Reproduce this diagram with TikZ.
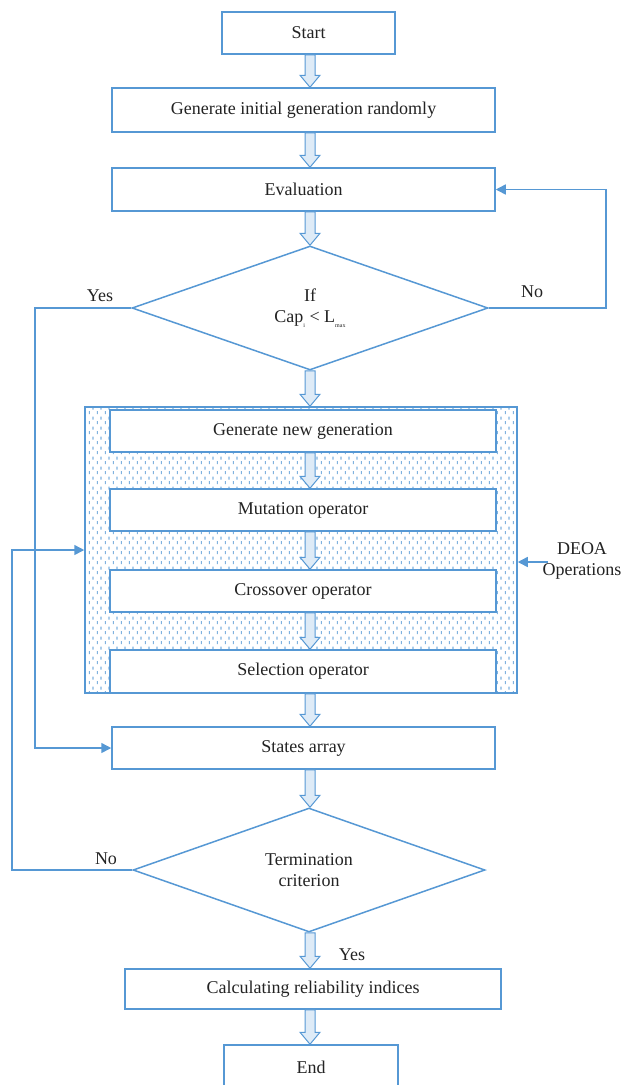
\documentclass[tikz,border=0pt]{standalone}
\usepackage{fontspec}
\setmainfont{Liberation Serif}
\usetikzlibrary{shapes.geometric,arrows.meta,patterns,calc}
\definecolor{flowblue}{RGB}{86,152,212}
\definecolor{arrowfill}{RGB}{222,235,247}
\definecolor{textgray}{RGB}{35,35,35}
% dotted fill of the DEOA block
\pgfdeclarepatternformonly{deoadots}{\pgfpointorigin}{\pgfqpoint{8pt}{10pt}}{\pgfqpoint{8pt}{10pt}}{%
  \pgfpathrectangle{\pgfqpoint{1pt}{1pt}}{\pgfqpoint{1.2pt}{3.2pt}}%
  \pgfpathrectangle{\pgfqpoint{5pt}{6pt}}{\pgfqpoint{1.2pt}{3.2pt}}%
  \pgfusepath{fill}}
% hollow block arrow from one node to the next
\newcommand{\blockarrow}[2]{%
  \draw[blockarr] let \p1=(#1.south -| axis), \p2=(#2.north -| axis) in
    (\x1-5pt,\y1) -- (\x1-5pt,\y2+12pt) -- (\x1-10pt,\y2+12pt) -- (\x1,\y2)
    -- (\x1+10pt,\y2+12pt) -- (\x1+5pt,\y2+12pt) -- (\x1+5pt,\y1) -- cycle;}
\begin{document}
\begin{tikzpicture}[x=1pt,y=-1pt,
    font=\fontsize{18}{21}\selectfont,
    proc/.style={draw=flowblue, line width=1.5pt, fill=white, text=textgray, minimum height=42, inner sep=0pt},
    decision/.style={diamond, draw=flowblue, line width=1.5pt, fill=white, text=textgray, inner sep=0pt, align=center},
    flow/.style={draw=flowblue, line width=1.5pt, -{Triangle[length=10pt,width=10pt]}},
    blockarr/.style={draw=flowblue, line width=1pt, fill=arrowfill},
    lbl/.style={text=textgray, inner sep=0pt}]
		\useasboundingbox (0,0) rectangle (621,1085);
		\coordinate (axis) at (310,0);
		% main column
		\node[proc, minimum width=173] (start) at (308.5,33) {Start};
		\node[proc, minimum width=383, minimum height=44] (geninit) at (303.5,110) {Generate initial generation randomly};
		\node[proc, minimum width=383, minimum height=43] (eval) at (303.5,189.5) {Evaluation};
		\node[decision, minimum width=356, minimum height=124] (cond) at (310,308)
			{If\\Cap\raisebox{-5pt}{\fontsize{6}{7}\selectfont i} < L\raisebox{-5pt}{\fontsize{6}{7}\selectfont max}};
		% DEOA block
		\node[draw=flowblue, line width=1.5pt, pattern=deoadots, pattern color=flowblue!75,
			minimum width=432, minimum height=286, inner sep=0pt] (deoa) at (301,550) {};
		\node[proc, minimum width=386] (gennew) at (303,431) {Generate new generation};
		\node[proc, minimum width=386] (mutation) at (303,510) {Mutation operator};
		\node[proc, minimum width=386] (crossover) at (303,591) {Crossover operator};
		\node[proc, minimum width=386, minimum height=43] (selection) at (303,671.5) {Selection operator};
		\node[lbl, align=center] (deoalabel) at (582,561) {DEOA\\Operations};
		\coordinate (deoatail) at (548,562);
		% lower column
		\node[proc, minimum width=383] (states) at (303.5,748) {States array};
		\node[decision, minimum width=352, minimum height=124] (term) at (309,870) {Termination\\criterion};
		\node[proc, minimum width=376, minimum height=40] (calc) at (313,989) {Calculating reliability indices};
		\node[proc, minimum width=174, minimum height=45] (endbox) at (311,1067.5) {End};
		% block arrows
		\blockarrow{start}{geninit}
		\blockarrow{geninit}{eval}
		\blockarrow{eval}{cond}
		\blockarrow{cond}{deoa}
		\blockarrow{gennew}{mutation}
		\blockarrow{mutation}{crossover}
		\blockarrow{crossover}{selection}
		\blockarrow{deoa}{states}
		\blockarrow{states}{term}
		\blockarrow{term}{calc}
		\blockarrow{calc}{endbox}
		% feedback connections
		\coordinate (yesbus) at (35,0);
		\coordinate (nobus) at (606,0);
		\coordinate (loopbus) at (12,0);
		\draw[flow] (cond.west) -| (yesbus |- states.west) -- (states.west);
		\draw[flow] (cond.east) -| (nobus |- eval.east) -- (eval.east);
		\draw[flow] (term.west) -| (loopbus |- deoa.west) -- (deoa.west);
		\draw[flow] (deoatail) -- (deoa.east |- deoatail);
		% labels
		\node[lbl] (yescond) at (100,296) {Yes};
		\node[lbl] (nocond) at (532,292) {No};
		\node[lbl] (noterm) at (106,859) {No};
		\node[lbl] (yesterm) at (352,955) {Yes};
	\end{tikzpicture}
\end{document}
